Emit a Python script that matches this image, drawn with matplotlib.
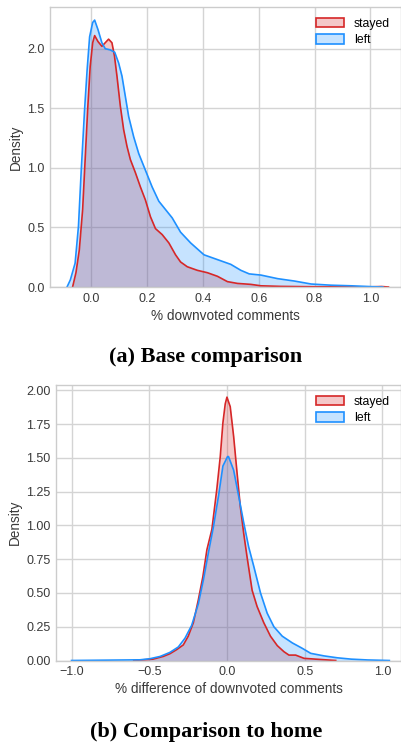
import numpy as np
import matplotlib
matplotlib.use("Agg")
import matplotlib.pyplot as plt
from matplotlib.patches import Patch

# panel (a): density of % downvoted comments
a_stayed_x = [-0.067, -0.055, -0.043, -0.031, -0.022, -0.013, -0.004, 0.005, 0.012, 0.024,
              0.038, 0.050, 0.062, 0.074, 0.083, 0.092, 0.104, 0.116, 0.128, 0.140,
              0.158, 0.176, 0.194, 0.212, 0.230, 0.254, 0.278, 0.302, 0.320, 0.344,
              0.380, 0.416, 0.452, 0.488, 0.524, 0.572, 0.608, 0.680, 0.800, 1.000, 1.040, 1.065]
a_stayed_y = [0.0, 0.12, 0.31, 0.65, 1.07, 1.49, 1.85, 2.05, 2.11, 2.06,
              2.02, 2.05, 2.08, 2.05, 1.94, 1.77, 1.52, 1.32, 1.18, 1.07,
              0.96, 0.84, 0.73, 0.59, 0.49, 0.44, 0.37, 0.27, 0.21, 0.17,
              0.14, 0.12, 0.09, 0.045, 0.03, 0.022, 0.01, 0.005, 0.002, 0.001, 0.004, 0.0]
a_left_x = [-0.087, -0.075, -0.058, -0.046, -0.036, -0.024, -0.015, -0.006, 0.005, 0.012,
            0.024, 0.038, 0.050, 0.068, 0.084, 0.098, 0.110, 0.122, 0.134, 0.152,
            0.170, 0.194, 0.218, 0.242, 0.266, 0.290, 0.320, 0.356, 0.404, 0.452,
            0.500, 0.536, 0.566, 0.608, 0.668, 0.728, 0.788, 0.860, 0.932, 1.004, 1.045]
a_left_y = [0.0, 0.06, 0.20, 0.51, 0.98, 1.49, 1.82, 2.10, 2.22, 2.24,
            2.16, 2.05, 2.00, 1.99, 1.97, 1.88, 1.77, 1.60, 1.43, 1.26,
            1.12, 0.98, 0.84, 0.72, 0.65, 0.58, 0.46, 0.37, 0.27, 0.23,
            0.19, 0.14, 0.11, 0.10, 0.07, 0.05, 0.025, 0.015, 0.01, 0.003, 0.0]

# panel (b): density of % difference to home
b_stayed_x = [-0.60, -0.475, -0.41, -0.367, -0.324, -0.281, -0.249, -0.216, -0.184, -0.155,
              -0.129, -0.097, -0.065, -0.043, -0.026, -0.011, 0.0, 0.021, 0.043, 0.065,
              0.086, 0.108, 0.129, 0.162, 0.194, 0.237, 0.280, 0.324, 0.367, 0.399,
              0.442, 0.496, 0.583, 0.70]
b_stayed_y = [0.0, 0.01, 0.03, 0.05, 0.08, 0.115, 0.18, 0.28, 0.45, 0.62,
              0.82, 0.97, 1.27, 1.51, 1.76, 1.90, 1.95, 1.88, 1.66, 1.39,
              1.14, 0.94, 0.77, 0.52, 0.40, 0.28, 0.18, 0.11, 0.065, 0.04,
              0.04, 0.016, 0.009, 0.0]
b_left_x = [-1.00, -0.56, -0.496, -0.43, -0.367, -0.313, -0.27, -0.227, -0.184, -0.151,
            -0.119, -0.087, -0.054, -0.026, 0.004, 0.010, 0.043, 0.075, 0.108, 0.140,
            0.172, 0.216, 0.259, 0.302, 0.356, 0.421, 0.485, 0.539, 0.625, 0.71,
            0.80, 0.906, 1.045]
b_left_y = [0.0, 0.005, 0.013, 0.03, 0.06, 0.10, 0.165, 0.26, 0.42, 0.60,
            0.80, 0.99, 1.22, 1.44, 1.51, 1.51, 1.41, 1.22, 1.02, 0.84,
            0.70, 0.50, 0.35, 0.25, 0.18, 0.13, 0.09, 0.053, 0.034, 0.02,
            0.01, 0.004, 0.0]

groups = ["stayed", "left"]
colors = ["#d62728", "#1e90ff"]

plt.rcParams["font.family"] = ["Liberation Sans", "DejaVu Sans"]

fig = plt.figure(figsize=(4.01, 7.47), dpi=100)
ax1 = fig.add_axes([50 / 401, (747 - 287) / 747, 351 / 401, 280 / 747])
ax2 = fig.add_axes([56 / 401, (747 - 660.5) / 747, 345 / 401, 275.5 / 747])


def draw(ax, series, xlabel, xlim, ylim, xticks, yticks, yfmt):
    for (xs, ys), c in zip(series, colors):
        ax.fill_between(xs, ys, 0, color=c, alpha=0.25, linewidth=0)
        ax.plot(xs, ys, color=c, linewidth=1.2)
    ax.set_xlim(*xlim)
    ax.set_ylim(*ylim)
    ax.set_xticks(xticks)
    ax.set_yticks(yticks)
    ax.set_yticklabels([yfmt.format(v) for v in yticks])
    ax.grid(True, color="#d4d4d4", linewidth=1.0)
    ax.set_axisbelow(True)
    for s in ax.spines.values():
        s.set_color("#cccccc")
        s.set_linewidth(1.0)
    ax.tick_params(length=0, labelsize=9, colors="#3a3a3a", pad=4)
    ax.set_xlabel(xlabel, fontsize=9.8, color="#3a3a3a", labelpad=3)
    ax.set_ylabel("Density", fontsize=9.8, color="#3a3a3a", labelpad=3)
    handles = [Patch(facecolor=matplotlib.colors.to_rgba(c, 0.25), edgecolor=c, linewidth=1.2)
               for c in colors]
    ax.legend(handles, groups, loc="upper right", frameon=False, fontsize=8.8,
              handlelength=2.3, handleheight=0.8, labelspacing=0.35, borderaxespad=0.5)


draw(ax1, [(a_stayed_x, a_stayed_y), (a_left_x, a_left_y)], "% downvoted comments",
     (-0.148, 1.11), (0, 2.35), np.arange(0, 1.01, 0.2), np.arange(0, 2.01, 0.5), "{:.1f}")
draw(ax2, [(b_stayed_x, b_stayed_y), (b_left_x, b_left_y)], "% difference of downvoted comments",
     (-1.10, 1.12), (0, 2.04), np.arange(-1.0, 1.01, 0.5), np.arange(0, 2.01, 0.25), "{:.2f}")

fig.text(206 / 401, 1 - 357 / 747, "(a) Base comparison", ha="center", va="center",
         fontsize=16, fontweight="bold", family="Liberation Serif")
fig.text(206 / 401, 1 - 732 / 747, "(b) Comparison to home", ha="center", va="center",
         fontsize=16, fontweight="bold", family="Liberation Serif")

fig.savefig("out.png", dpi=100)
